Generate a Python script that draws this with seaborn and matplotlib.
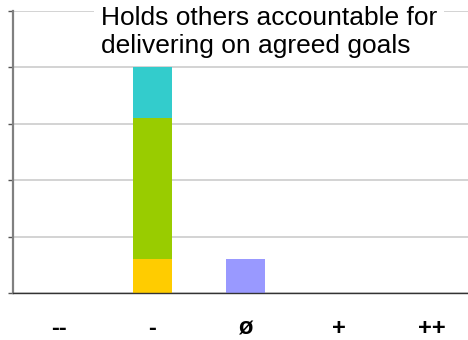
import matplotlib
matplotlib.use("Agg")
import matplotlib.pyplot as plt
import seaborn as sns
import numpy as np

# Rating categories and stacked segment values (percent of responses)
categories = ["--", "-", "ø", "+", "++"]
yellow_vals = [0, 12, 0, 0, 0]
green_vals = [0, 50, 0, 0, 0]
cyan_vals = [0, 18, 0, 0, 0]
purple_vals = [0, 0, 12, 0, 0]

title_text = "Holds others accountable for\ndelivering on agreed goals"

sns.set_style("white")
plt.rcParams["font.family"] = ["Liberation Sans", "DejaVu Sans"]

fig = plt.figure(figsize=(4.68, 3.4), dpi=100)
ax = fig.add_axes([13 / 468, 1 - 293.3 / 340, (478 - 13) / 468, (293.3 - 10.7) / 340])

# Stack by layering cumulative totals, tallest first
y_arr = np.array(yellow_vals, dtype=float)
g_arr = np.array(green_vals, dtype=float)
c_arr = np.array(cyan_vals, dtype=float)
p_arr = np.array(purple_vals, dtype=float)

layers = [
    (y_arr + g_arr + c_arr, "#33CCCC"),
    (y_arr + g_arr, "#99CC00"),
    (y_arr, "#FFCC00"),
    (p_arr, "#9999FF"),
]
for vals, col in layers:
    sns.barplot(x=categories, y=vals, color=col, width=0.41, saturation=1,
                linewidth=0, ax=ax, order=categories)

ax.set_xlim(-0.5, 4.5)
ax.set_ylim(0, 100)
ax.set_yticks(np.arange(0, 101, 20))
ax.set_yticklabels([])
ax.yaxis.grid(True, color="#c8c8c8", linewidth=1.1)
ax.set_axisbelow(True)

# Category labels centered, tick marks at category boundaries
ax.set_xticks(range(len(categories)))
ax.set_xticklabels(categories, fontsize=17, fontweight="bold", color="black")
ax.tick_params(axis="x", which="major", length=0, pad=17)
ax.set_xticks(np.arange(-0.5, 4.6, 1), minor=True)
ax.tick_params(axis="x", which="minor", length=7, width=1, color="#808080", direction="out")
ax.tick_params(axis="y", which="major", length=3.5, width=1, color="#555555", direction="out", left=True)

for side in ("top", "right"):
    ax.spines[side].set_visible(False)
ax.spines["left"].set_color("#808080")
ax.spines["left"].set_linewidth(1.6)
ax.spines["bottom"].set_color("#333333")
ax.spines["bottom"].set_linewidth(1.0)
ax.set_xlabel("")
ax.set_ylabel("")

fig.text(101 / 468, 1 - 6 / 340, title_text, fontsize=19, va="top", ha="left",
         linespacing=1.2, color="black",
         bbox=dict(facecolor="white", edgecolor="none", pad=5))

fig.savefig("out.png", dpi=100)
